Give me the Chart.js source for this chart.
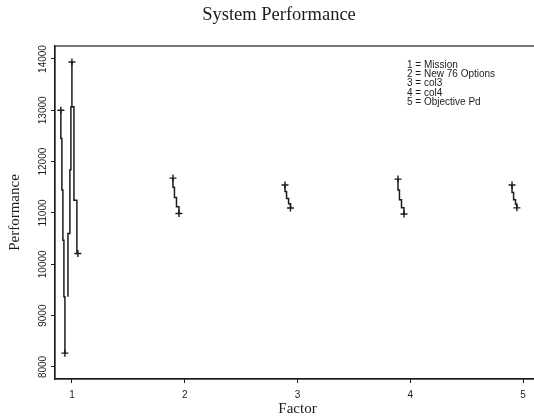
<!DOCTYPE html>
<html>
<head>
<meta charset="utf-8">
<script src="https://cdn.jsdelivr.net/npm/chart.js@4"></script>
<style>
  html, body { margin: 0; padding: 0; background: #fff; overflow: hidden; }
  canvas { display: block; }
</style>
</head>
<body>
<canvas id="perf" width="550" height="417"></canvas>
<script>
// ── Data ─────────────────────────────────────────────────────────────────────

const factorTicks = [1, 2, 3, 4, 5];
const perfTicks = [8000, 9000, 10000, 11000, 12000, 13000, 14000];
const keyLabels = ['1 = Mission', '2 = New 76 Options', '3 = col3', '4 = col4', '5 = Objective Pd'];

// factor 1 (Mission) has three sorted runs
const missionA_x = [0.902, 0.902, 0.911, 0.911, 0.920, 0.920, 0.929, 0.929, 0.938, 0.938];
const missionA_y = [13000, 12450, 12450, 11450, 11450, 10470, 10470, 9370, 9370, 8270];
const missionB_x = [1.000, 1.000, 0.991, 0.991, 0.982, 0.982, 0.965, 0.965];
const missionB_y = [13940, 13070, 13070, 11840, 11840, 10600, 10600, 9370];
const missionC_x = [1.000, 1.018, 1.018, 1.044, 1.044, 1.053];
const missionC_y = [13070, 13070, 11250, 11250, 10210, 10210];

const newOpt_x = [1.896, 1.896, 1.909, 1.909, 1.927, 1.927, 1.949, 1.949];
const newOpt_y = [11680, 11500, 11500, 11300, 11300, 11120, 11120, 10990];
const col3_x = [2.889, 2.889, 2.903, 2.903, 2.921, 2.921, 2.938, 2.938];
const col3_y = [11544, 11420, 11420, 11280, 11280, 11180, 11180, 11096];
const col4_x = [3.891, 3.891, 3.904, 3.904, 3.922, 3.922, 3.944, 3.944];
const col4_y = [11660, 11450, 11450, 11260, 11260, 11100, 11100, 10980];
const objPd_x = [4.902, 4.902, 4.916, 4.916, 4.933, 4.933, 4.945, 4.945];
const objPd_y = [11544, 11400, 11400, 11260, 11260, 11170, 11170, 11100];

// ── Helpers ──────────────────────────────────────────────────────────────────

const ink = '#1c1c1c';
const serif = '"Liberation Serif", "Times New Roman", serif';
const sans = '"Liberation Sans", Arial, sans-serif';

function pts(xs, ys) {
  return xs.map((x, i) => ({ x: x, y: ys[i] }));
}

// staircase line with "+" caps on the chosen ends
function run(xs, ys, capStart, capEnd) {
  const n = xs.length;
  return {
    data: pts(xs, ys),
    showLine: true,
    borderColor: ink,
    borderWidth: 1.5,
    pointStyle: 'cross',
    pointBorderColor: ink,
    pointBorderWidth: 1.4,
    pointRadius: ctx => (ctx.dataIndex === 0 && capStart) || (ctx.dataIndex === n - 1 && capEnd) ? 3.5 : 0,
    tension: 0,
  };
}

// ── Chart ────────────────────────────────────────────────────────────────────

const frame = {
  id: 'frame',
  afterDraw(chart) {
    const { ctx, chartArea: a, scales } = chart;
    ctx.save();
    ctx.strokeStyle = ink;
    ctx.lineWidth = 1.2;
    ctx.strokeRect(a.left, a.top, a.right - a.left, a.bottom - a.top);

    // title, centred on the page figure as S-Plus did
    ctx.fillStyle = ink;
    ctx.font = '18.5px ' + serif;
    ctx.textAlign = 'center';
    ctx.textBaseline = 'middle';
    ctx.fillText('System Performance', 279, 15);

    // rotated y tick labels
    ctx.font = '10px ' + sans;
    perfTicks.forEach(v => {
      const py = scales.y.getPixelForValue(v);
      ctx.save();
      ctx.translate(43, py);
      ctx.rotate(-Math.PI / 2);
      ctx.fillText(String(v), 0, 0);
      ctx.restore();
    });

    // key in the top right
    ctx.textAlign = 'left';
    keyLabels.forEach((t, i) => {
      ctx.fillText(t, 407, 65 + i * 9.3);
    });
    ctx.restore();
  }
};

new Chart(document.getElementById('perf'), {
  type: 'scatter',
  data: {
    datasets: [
      run(missionA_x, missionA_y, true, true),
      run(missionB_x, missionB_y, true, false),
      run(missionC_x, missionC_y, false, true),
      run(newOpt_x, newOpt_y, true, true),
      run(col3_x, col3_y, true, true),
      run(col4_x, col4_y, true, true),
      run(objPd_x, objPd_y, true, true),
    ]
  },
  options: {
    responsive: false,
    animation: false,
    layout: { padding: { left: 0, right: 10, top: 46, bottom: 0 } },
    plugins: {
      legend: { display: false },
      tooltip: { enabled: false },
      title: { display: false }
    },
    scales: {
      x: {
        type: 'linear',
        min: 0.85,
        max: 5.15,
        afterBuildTicks: s => { s.ticks = factorTicks.map(v => ({ value: v })); },
        afterFit: s => { s.height = 38; },
        ticks: {
          color: ink,
          font: { family: sans, size: 10 },
          padding: 6,
          maxRotation: 0,
          callback: v => String(v)
        },
        grid: { display: true, drawOnChartArea: false, drawTicks: true, tickLength: 4, color: ink },
        border: { display: true, color: ink, width: 1.2 },
        title: {
          display: true,
          text: 'Factor',
          color: ink,
          font: { family: serif, size: 15, lineHeight: 1 },
          padding: { top: 0, bottom: 0 }
        }
      },
      y: {
        type: 'linear',
        min: 7766,
        max: 14253,
        afterBuildTicks: s => { s.ticks = perfTicks.map(v => ({ value: v })); },
        afterFit: s => { s.width = 55; },
        ticks: { display: false },
        grid: { display: true, drawOnChartArea: false, drawTicks: true, tickLength: 4, color: ink },
        border: { display: true, color: ink, width: 1.2 },
        title: {
          display: true,
          text: 'Performance',
          color: ink,
          font: { family: serif, size: 15, lineHeight: 1 },
          padding: { top: 7.5, bottom: 0 }
        }
      }
    }
  },
  plugins: [frame]
});
</script>
</body>
</html>
